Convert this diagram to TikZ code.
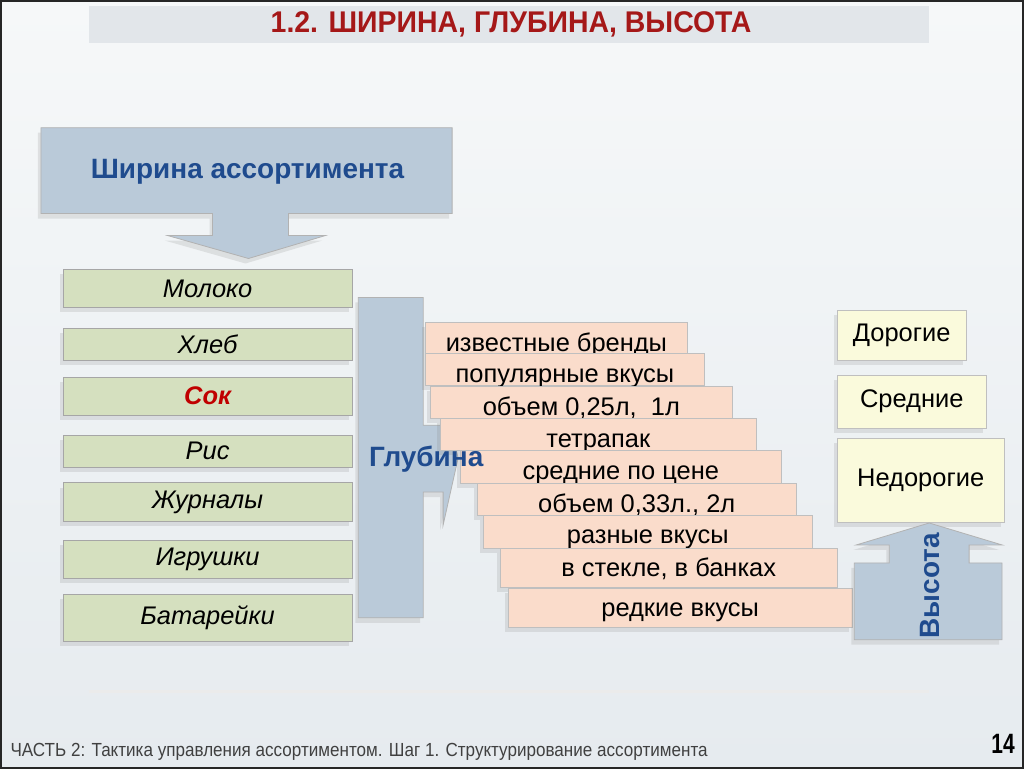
\documentclass[tikz,border=0pt]{standalone}
\usepackage{fontspec}
\setmainfont{Liberation Sans}
\usetikzlibrary{shadows}
\definecolor{slidetop}{HTML}{F6F8F9}
\definecolor{slidebottom}{HTML}{E6EBEF}
\definecolor{titlebar}{HTML}{E2E6EA}
\definecolor{titlered}{HTML}{A51818}
\definecolor{bodyblue}{HTML}{BACAD9}
\definecolor{darkblue}{HTML}{1F4B8E}
\definecolor{itemgreen}{HTML}{D5E0BF}
\definecolor{hotred}{HTML}{C00000}
\definecolor{peach}{HTML}{FADCCB}
\definecolor{paleyellow}{HTML}{FAFADC}
\definecolor{footgray}{HTML}{404040}
\begin{document}
\begin{tikzpicture} [
                x=1pt, y=-1pt,
                shadowed/.style={drop shadow={opacity=0.18, shadow xshift=-3pt, shadow yshift=-5pt}},
                bluebody/.style={fill=bodyblue, draw=black!30, line width=0.8pt, shadowed},
                bluetext/.style={text=darkblue, font=\fontsize{28}{32}\selectfont\bfseries},
                item/.style={draw=black!35, fill=itemgreen, minimum width=290, inner sep=0pt,
                    font=\fontsize{25.5}{28}\selectfont\itshape},
                hot item/.style={item, text=hotred, font=\fontsize{25.5}{28}\selectfont\bfseries\itshape},
                depth/.style={draw=black!25, fill=peach, inner sep=0pt, font=\fontsize{25.5}{28}\selectfont},
                level/.style={depth, fill=paleyellow},
            ]
            % slide background, title and footer
            \shade[top color=slidetop, bottom color=slidebottom] (0,0) rectangle (1024,768);
            \draw[black!85, line width=2pt] (0,0) rectangle (1024,768);
            \fill[titlebar] (88,5) rectangle (930,42);
            \node[text=titlered, font=\fontsize{30}{34}\selectfont\bfseries] (title) at (511,23)
                {\scalebox{0.95}[1]{1.2. ШИРИНА, ГЛУБИНА, ВЫСОТА}};
            \draw[black!8, line width=3pt] (88,692) -- (930,692);
            \node[anchor=west, text=footgray, font=\fontsize{19}{21}\selectfont] (footer) at (6,752)
                {\scalebox{0.9}[1]{ЧАСТЬ 2: Тактика управления ассортиментом. Шаг 1. Структурирование ассортимента}};
            \node[font=\fontsize{28}{30}\selectfont\bfseries] (page) at (1004,744) {\scalebox{0.75}[1]{14}};
            % width: box with a down arrow
            \path[bluebody] (40,127) -- (452,127) -- (452,213) -- (288,213) -- (288,235) -- (325,235)
                -- (248,258) -- (167,235) -- (212,235) -- (212,213) -- (40,213) -- cycle;
            \node[bluetext] (width) at (247,171) {Ширина ассортимента};
            % the product groups
            \foreach \pos/\h/\name/\txt in {
                    {(207,288)/38/milk/Молоко}, {(207,344)/32/bread/Хлеб}, {(207,396)/38/juice/Сок},
                    {(207,451)/32/rice/Рис}, {(207,502)/39/mags/Журналы}, {(207,559)/38/toys/Игрушки},
                    {(207,618)/47/cells/Батарейки}}
                \node[item, shadowed, minimum height=\h] (\name) at \pos {\txt};
            % mark the chosen group
            \path node[hot item, minimum height=38] at (juice) {Сок};
            % depth: bar with a right arrow
            \path[bluebody] (358,297) -- (423,297) -- (423,425) -- (443,425) -- (443,390) -- (458,458)
                -- (443,525) -- (443,492) -- (423,492) -- (423,618) -- (358,618) -- cycle;
            % each text sits low, the next box hides its tails
            \foreach \l/\r/\t/\b/\name/\txt in {
                    425/688/322/353/brands/известные бренды,
                    425/705/353/385/popular/популярные вкусы,
                    430/733/386/418/small/{объем 0,25л,~ 1л},
                    440/757/418/450/pack/тетрапак,
                    460/782/450/483/midprice/средние по цене,
                    477/797/483/515/big/{объем 0,33л., 2л},
                    483/813/515/548/tastes/разные вкусы,
                    500/838/548/587/glass/{в стекле, в банках},
                    508/853/588/627/rare/редкие вкусы}
                \node[depth, shadowed, minimum width={\r-\l}, minimum height={\b-\t},
                    text height={58-\b+\t}, text depth=0pt] (\name)
                    at ({(\l+\r)/2},{(\t+\b)/2}) {\txt};
            \node[bluetext] (depthlabel) at (426,459) {Глубина};
            % height: price levels with an up arrow
            \foreach \l/\r/\t/\b/\name/\txt in {
                    838/967/310/360/dear/Дорогие,
                    838/987/375/428/medium/Средние,
                    838/1005/438/522/cheap/Недорогие}
                \node[level, shadowed, minimum width={\r-\l}, minimum height={\b-\t}] (\name)
                    at ({(\l+\r)/2},{(\t+\b)/2}) {\txt};
            \path[bluebody] (855,640) -- (855,563) -- (890,563) -- (890,545) -- (857,545) -- (930,523)
                -- (1003,545) -- (970,545) -- (970,563) -- (1003,563) -- (1003,640) -- cycle;
            \node[bluetext, rotate=90] (heightlabel) at (931,586) {Высота};
        \end{tikzpicture}
\end{document}
